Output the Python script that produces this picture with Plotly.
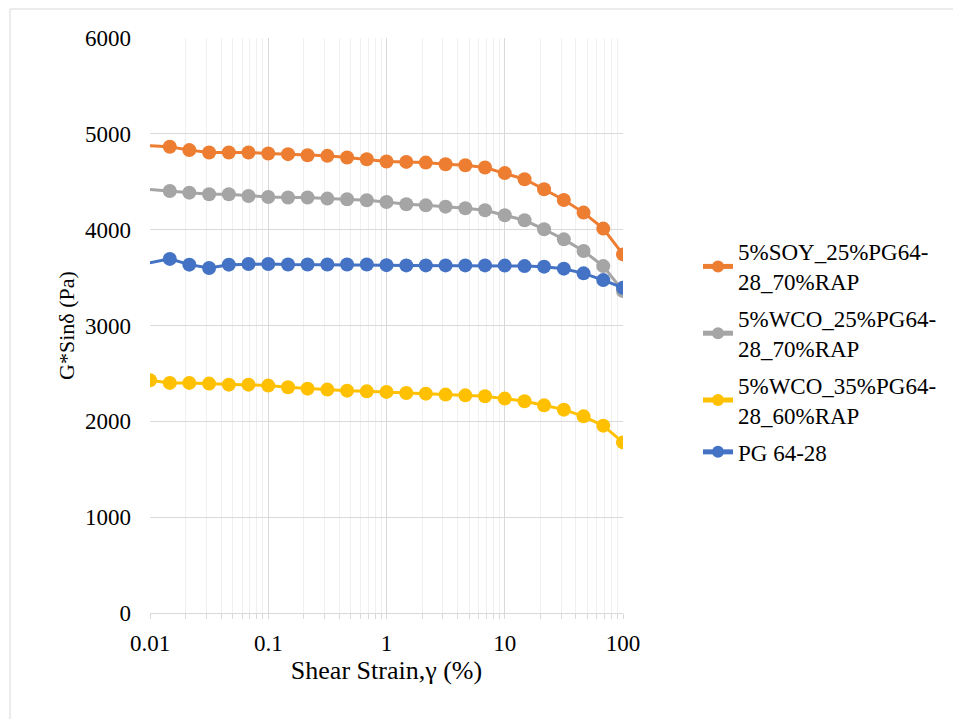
import plotly.graph_objects as go

# ---- data ----
strain_early = [0.00999, 0.0147, 0.0215, 0.0316, 0.0464, 0.0681, 0.1, 0.147, 0.215, 0.316, 0.464, 0.681,
                1, 1.47, 2.15, 3.16, 4.64, 6.81, 10, 14.7, 21.5, 31.6, 46.4, 68.1, 100]
strain = [0.01, 0.0147, 0.0215, 0.0316, 0.0464, 0.0681, 0.1, 0.147, 0.215, 0.316, 0.464, 0.681,
          1, 1.47, 2.15, 3.16, 4.64, 6.81, 10, 14.7, 21.5, 31.6, 46.4, 68.1, 100]

soy_25_70 = [4875, 4865, 4830, 4805, 4805, 4805, 4795, 4788, 4777, 4770, 4753, 4735, 4711,
             4707, 4700, 4683, 4672, 4648, 4590, 4526, 4422, 4310, 4178, 4011, 3742]
wco_25_70 = [4420, 4404, 4386, 4369, 4369, 4352, 4341, 4335, 4335, 4324, 4317, 4307, 4289,
             4265, 4254, 4240, 4223, 4202, 4150, 4098, 4004, 3899, 3777, 3620, 3359]
wco_35_60 = [2428, 2401, 2401, 2394, 2383, 2383, 2373, 2355, 2341, 2331, 2320, 2313, 2307,
             2296, 2289, 2279, 2271, 2261, 2237, 2209, 2167, 2122, 2052, 1955, 1780]
pg_64_28 = [3655, 3695, 3635, 3600, 3635, 3642, 3642, 3636, 3636, 3636, 3636, 3636, 3630,
            3627, 3627, 3627, 3627, 3627, 3625, 3620, 3614, 3593, 3544, 3474, 3394]

series_names = ["5%SOY_25%PG64-<br>28_70%RAP", "5%WCO_25%PG64-<br>28_70%RAP",
                "5%WCO_35%PG64-<br>28_60%RAP", "PG 64-28"]
series_x = [strain_early, strain_early, strain, strain_early]
series_y = [soy_25_70, wco_25_70, wco_35_60, pg_64_28]
series_colors = ["#ED7D31", "#A5A5A5", "#FFC000", "#4472C4"]

x_tick_vals = [0.01, 0.1, 1, 10, 100]
x_tick_text = ["0.01", "0.1", "1", "10", "100"]
X_MIN, X_MAX = 0.01, 100

FONT = "'Liberation Serif', 'DejaVu Serif', 'Times New Roman', Times, serif"

fig = go.Figure()
for i, (name, xs, ys, col) in enumerate(zip(series_names, series_x, series_y, series_colors)):
    sizes = [0 if x < X_MIN else 14 for x in xs]
    fig.add_trace(go.Scatter(
        x=xs, y=ys, name=name, mode="lines+markers", legendgroup=f"g{i}",
        line=dict(color=col, width=3),
        marker=dict(color=col, size=sizes, opacity=1, line=dict(width=0)),
    ))

# page has an 8px body margin; place plot area at page px x 150..623, y 38..613
OFF = 8
W, H = 961, 719
PL, PR, PT, PB = 150, 623, 38, 613
L, T = PL - OFF, PT - OFF
R = W - (PR - OFF)
B = H - (PB - OFF)
pw, ph = PR - PL, PB - PT

def px_to_paper_x(px):
    return (px - PL) / pw

def px_to_paper_y(py):
    return (PB - py) / ph

fig.update_layout(
    width=W, height=H,
    margin=dict(l=L, r=R, t=T, b=B, pad=0),
    paper_bgcolor="white", plot_bgcolor="white",
    font=dict(family=FONT, size=22, color="#000000"),
    showlegend=True,
    legend=dict(
        x=px_to_paper_x(698), y=px_to_paper_y(230), xanchor="left", yanchor="top",
        font=dict(family=FONT, size=23, color="#000000"),
        bgcolor="rgba(0,0,0,0)", tracegroupgap=4, itemsizing="constant",
    ),
    shapes=[dict(
        type="rect", xref="paper", yref="paper",
        x0=px_to_paper_x(10), x1=px_to_paper_x(980),
        y0=px_to_paper_y(740), y1=px_to_paper_y(9),
        line=dict(color="#d9d9d9", width=1), fillcolor="rgba(0,0,0,0)", layer="below",
    )],
)

fig.update_xaxes(
    type="log", range=[-2, 2],
    tickvals=x_tick_vals, ticktext=x_tick_text,
    tickfont=dict(family=FONT, size=23, color="#000000"),
    showgrid=True, gridcolor="#d9d9d9", gridwidth=1,
    showline=True, linecolor="#d9d9d9", linewidth=1,
    ticks="outside", ticklen=5, tickcolor="#d9d9d9",
    ticklabelstandoff=4,
    minor=dict(dtick="D1", showgrid=True, gridcolor="#f0f0f0", gridwidth=1,
               ticks="outside", ticklen=5, tickcolor="#d9d9d9"),
    zeroline=False, mirror=False,
    title=dict(text="Shear Strain,γ (%)", font=dict(family=FONT, size=26, color="#000000"), standoff=6),
    automargin=False,
)
fig.update_yaxes(
    range=[0, 6000], dtick=1000, tickformat="d",
    tickfont=dict(family=FONT, size=23, color="#000000"),
    showgrid=True, gridcolor="#d9d9d9", gridwidth=1,
    showline=False, zeroline=False, ticks="",
    ticklabelstandoff=18,
    title=dict(text="G*Sinδ (Pa)", font=dict(family=FONT, size=22, color="#000000"), standoff=4),
    automargin=False,
)

fig.write_html("out.html")
